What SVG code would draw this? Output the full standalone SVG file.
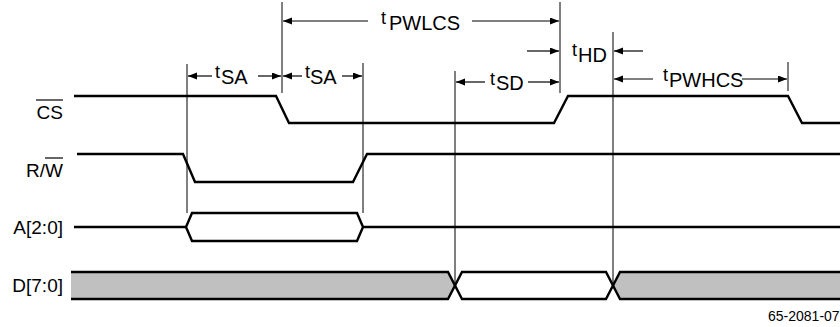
<svg xmlns="http://www.w3.org/2000/svg" width="840" height="327" viewBox="0 0 840 327">
<style>
text{font-family:"Liberation Sans",Arial,sans-serif;fill:#000}
.lbl{font-size:19px;text-anchor:end}
.t{font-size:18px}
.s{font-size:20px}
.sig{fill:none;stroke:#000;stroke-width:2.4;stroke-linejoin:miter}
.ref{fill:none;stroke:#000;stroke-width:1}
.arr{fill:none;stroke:#000;stroke-width:1.2;marker-end:url(#ah)}
.ol{stroke:#000;stroke-width:1.2}
.fig{font-size:14px}
</style>
<defs>
<marker id="ah" markerUnits="userSpaceOnUse" markerWidth="10" markerHeight="8" refX="9" refY="3.5" orient="auto">
<path d="M0,0 L9,3.5 L0,7 z" fill="#000"/>
</marker>
</defs>
<rect width="840" height="327" fill="#fff"/>

<g id="labels">
<text class="lbl" x="63" y="119">CS</text><line class="ol" x1="36" y1="100" x2="63" y2="100"/>
<text class="lbl" x="63" y="177">R/W</text><line class="ol" x1="45" y1="158" x2="63" y2="158"/>
<text class="lbl" x="63" y="234">A[2:0]</text>
<text class="lbl" x="63" y="292">D[7:0]</text>
</g>

<g id="sig-D">
<path d="M71,272 H448 L455,285.5 L448,299 H71 Z" fill="#c0c0c0"/>
<path d="M620,272 H840 V299 H620 L613,285.5 Z" fill="#c0c0c0"/>
<path class="sig" d="M71,272 H448 L462,299 H606 L620,272 H840"/>
<path class="sig" d="M71,299 H448 L462,272 H606 L620,299 H840"/>
</g>

<g id="sig-CS"><path class="sig" d="M74,96 H276 L289,123 H554 L568,96 H788 L802,123 H840"/></g>
<g id="sig-RW"><path class="sig" d="M77,154 H183 L195,182 H353 L367,154 H840"/></g>
<g id="sig-A"><path class="sig" d="M74,227 H186 L192,213 H357 L363,227 H840 M363,227 L357,241 H192 L186,227"/></g>

<g id="connectors">
<line class="ref" x1="282" y1="2" x2="282" y2="93"/>
<line class="ref" x1="560" y1="2" x2="560" y2="93"/>
<line class="ref" x1="187" y1="64" x2="187" y2="213"/>
<line class="ref" x1="363" y1="63" x2="363" y2="213"/>
<line class="ref" x1="455" y1="71" x2="455" y2="285"/>
<line class="ref" x1="613" y1="32" x2="613" y2="285"/>
<line class="ref" x1="788" y1="62" x2="788" y2="91"/>

<line class="arr" x1="368" y1="21" x2="283" y2="21"/>
<line class="arr" x1="472" y1="21" x2="559" y2="21"/>
<line class="arr" x1="212" y1="76" x2="188" y2="76"/>
<line class="arr" x1="258" y1="76" x2="281" y2="76"/>
<line class="arr" x1="302" y1="76" x2="283" y2="76"/>
<line class="arr" x1="342" y1="76" x2="362" y2="76"/>
<line class="arr" x1="485" y1="82" x2="456" y2="82"/>
<line class="arr" x1="528" y1="82" x2="559" y2="82"/>
<line class="arr" x1="527" y1="51" x2="559" y2="51"/>
<line class="arr" x1="643" y1="51" x2="614" y2="51"/>
<line class="arr" x1="653" y1="79" x2="614" y2="79"/>
<line class="arr" x1="742" y1="79" x2="787" y2="79"/>
</g>

<g id="timing-labels">
<g id="tPWLCS"><text class="t" x="381" y="24">t</text><text class="s" x="389" y="30">PWLCS</text></g>
<g id="tSA1"><text class="t" x="215" y="78">t</text><text class="s" x="221" y="84">SA</text></g>
<g id="tSA2"><text class="t" x="305" y="78">t</text><text class="s" x="310" y="84">SA</text></g>
<g id="tSD"><text class="t" x="490" y="85">t</text><text class="s" x="496" y="90">SD</text></g>
<g id="tHD"><text class="t" x="572" y="56">t</text><text class="s" x="578" y="62">HD</text></g>
<g id="tPWHCS"><text class="t" x="663" y="81">t</text><text class="s" x="669" y="87">PWHCS</text></g>
</g>

<text class="fig" x="768" y="321">65-2081-07</text>
</svg>
